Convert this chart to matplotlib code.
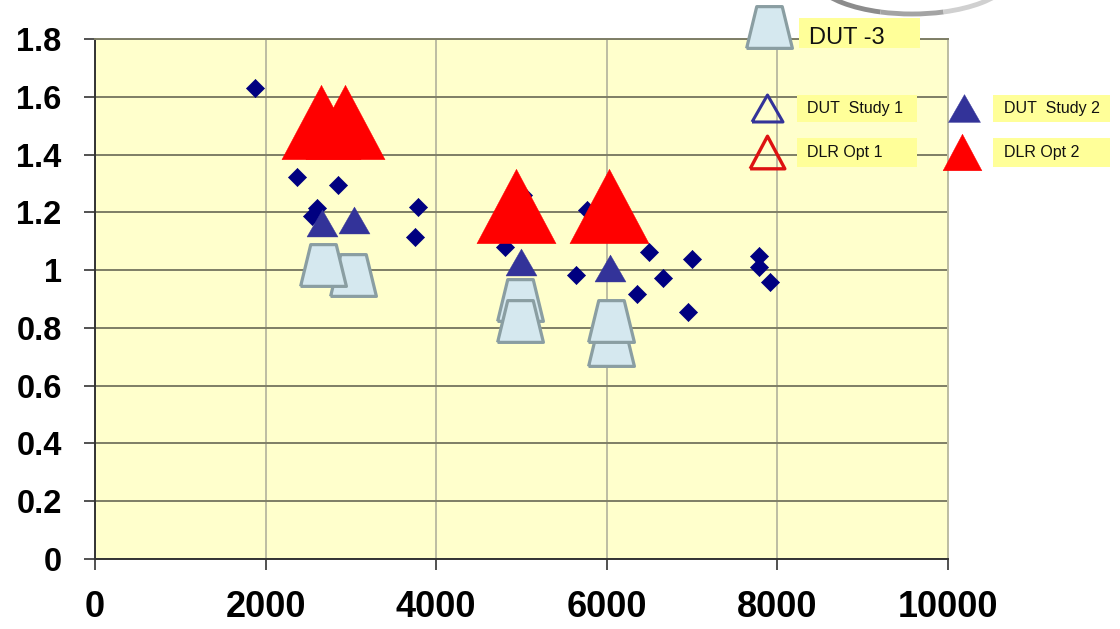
import matplotlib
matplotlib.use("Agg")
import matplotlib.pyplot as plt
from matplotlib.patches import Rectangle, Arc
from matplotlib.lines import Line2D

plt.rcParams['font.family'] = ['Liberation Sans', 'DejaVu Sans']

# ---------- data ----------------------------------------------------------
# navy diamonds (unlabelled scatter)
dut_x = [1876, 2368, 2849, 2602, 2544, 3786, 3751, 4806, 5020, 5767,
         5638, 6494, 6998, 6658, 6353, 6951, 7784, 7784, 7913]
dut_y = [1.630, 1.322, 1.295, 1.215, 1.187, 1.218, 1.115, 1.081, 1.260, 1.208,
         0.983, 1.063, 1.038, 0.973, 0.917, 0.855, 1.049, 1.011, 0.959]

# DUT -3 (light blue trapezoids), listed in drawing order
dut3_x = [3019, 2672, 4982, 4982, 6049, 6049]
dut3_y = [0.983, 1.018, 0.895, 0.824, 0.742, 0.824]

# DUT Study 2 (filled navy triangles)
study2_x = [2661, 3036, 4994, 6038]
study2_y = [1.163, 1.173, 1.028, 1.007]

# DLR Opt 2 (filled red triangles)
opt2_x = [2649, 2931, 4935, 6026]
opt2_y = [1.513, 1.513, 1.222, 1.222]

x_ticks = [0, 2000, 4000, 6000, 8000, 10000]
y_ticks = [0, 0.2, 0.4, 0.6, 0.8, 1.0, 1.2, 1.4, 1.6, 1.8]
y_labels = ['0', '0.2', '0.4', '0.6', '0.8', '1', '1.2', '1.4', '1.6', '1.8']

# ---------- styles ---------------------------------------------------------
NAVY = '#000080'
SLATE = '#333399'
RED = '#FF0000'
TRAP_FACE = '#D5E8EF'
TRAP_EDGE = '#8A9EA2'
PLOT_BG = '#FFFFCC'
BOX_BG = '#FFFF99'

diamond = [(0, 1), (1, 0), (0, -1), (-1, 0), (0, 1)]
trapezoid = [(-1, -0.911), (1, -0.911), (0.556, 0.911), (-0.556, 0.911), (-1, -0.911)]
tri_small = [(-1, -0.87), (1, -0.87), (0, 0.87), (-1, -0.87)]
tri_big = [(-1, -0.94), (1, -0.94), (0, 0.94), (-1, -0.94)]

W, H = 1120, 629
fig = plt.figure(figsize=(W / 100, H / 100), dpi=100)
ax = fig.add_axes([95 / W, 1 - 559 / H, (948 - 95) / W, (559 - 39) / H])
ax.set_facecolor(PLOT_BG)

ax.set_xlim(0, 10000)
ax.set_ylim(0, 1.8)
ax.set_xticks(x_ticks)
ax.set_yticks(y_ticks)
ax.set_yticklabels(y_labels)
ax.tick_params(axis='y', length=8, width=1.2, pad=16, labelsize=23.5, color='#333333')
ax.tick_params(axis='x', length=8, width=1.2, pad=14, labelsize=26, color='#333333')
for lab in ax.get_xticklabels() + ax.get_yticklabels():
    lab.set_fontweight('bold')

ax.set_axisbelow(True)
ax.yaxis.grid(True, color='#7E7E66', lw=1.4)
ax.xaxis.grid(True, color='#BDBDA2', lw=1.4)
ax.spines['left'].set_color('#333333')
ax.spines['bottom'].set_color('#333333')
ax.spines['left'].set_linewidth(1.4)
ax.spines['bottom'].set_linewidth(1.4)
ax.spines['top'].set_color('#7E7E66')
ax.spines['right'].set_color('#BDBDA2')
ax.spines['top'].set_linewidth(1.4)
ax.spines['right'].set_linewidth(1.4)

# ---------- series ---------------------------------------------------------
ax.plot(dut_x, dut_y, ls='none', marker=diamond, ms=13, color=NAVY,
        mec=NAVY, mew=0.5, zorder=3)
ax.plot(dut3_x, dut3_y, ls='none', marker=trapezoid, ms=33, mfc=TRAP_FACE,
        mec=TRAP_EDGE, mew=2.3, zorder=4)
ax.plot(study2_x, study2_y, ls='none', marker=tri_small, ms=22.3, color=SLATE,
        mec=SLATE, mew=0.3, zorder=5)
ax.plot(opt2_x, opt2_y, ls='none', marker=tri_big, ms=57, color=RED,
        mec=RED, mew=0.3, zorder=6)

# ---------- hand-made legend ---------------------------------------------
def fx(px):
    return px / W


def fy(py):
    return 1 - py / H


def legend_box(x0, x1, y0, y1, text, tx, ty, size):
    fig.add_artist(Rectangle((fx(x0), fy(y1)), fx(x1) - fx(x0), fy(y0) - fy(y1),
                             transform=fig.transFigure, facecolor=BOX_BG,
                             edgecolor='none', zorder=10))
    fig.text(fx(tx), fy(ty), text, fontsize=size, va='center', ha='left',
             zorder=11, color='#111111')


def legend_marker(px, py, **kw):
    fig.add_artist(Line2D([fx(px)], [fy(py)], transform=fig.transFigure,
                          ls='none', zorder=12, **kw))


legend_box(799, 920, 18, 48, 'DUT -3', 809, 38, 17)
legend_box(797, 917, 95, 122, 'DUT  Study 1', 807, 108.5, 11.5)
legend_box(993, 1110, 95, 122, 'DUT  Study 2', 1004, 108.5, 11.5)
legend_box(797, 917, 138, 167, 'DLR Opt 1', 807, 153, 11.5)
legend_box(993, 1110, 138, 167, 'DLR Opt 2', 1004, 153, 11.5)

legend_marker(769, 27, marker=trapezoid, ms=33, mfc=TRAP_FACE, mec=TRAP_EDGE, mew=2.3)
legend_marker(767, 108, marker=tri_small, ms=22.3, mfc='none', mec=SLATE, mew=2.2)
legend_marker(964, 108, marker=tri_small, ms=23, mfc=SLATE, mec=SLATE, mew=0.3)
legend_marker(767, 152, marker=tri_big, ms=25, mfc='none', mec='#DD1111', mew=2.4)
legend_marker(962, 152, marker=tri_big, ms=28, mfc=RED, mec=RED, mew=0.3)

# grey swoosh from the slide template at the top edge
for t1, t2, c in [(195, 245, '#8C8C8C'), (245, 295, '#A4A4A4'), (295, 345, '#D0D0D0')]:
    fig.add_artist(Arc((fx(912), fy(-26)), fx(200), 80 / H, theta1=t1, theta2=t2,
                       transform=fig.transFigure, color=c, lw=3.5, zorder=9))

fig.savefig('out.png', dpi=100)
